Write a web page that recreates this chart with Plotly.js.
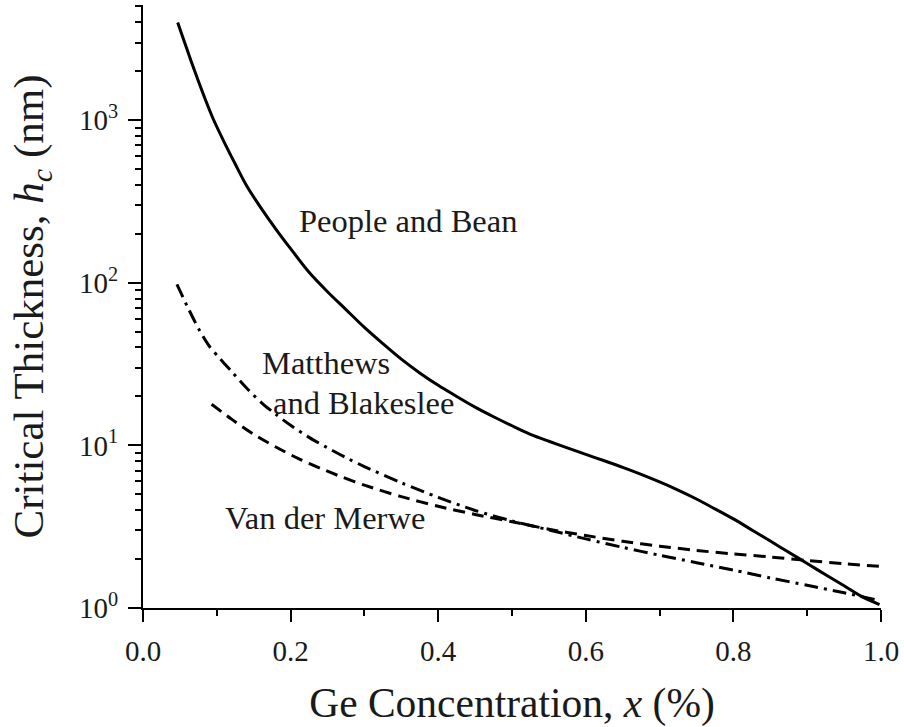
<!DOCTYPE html>
<html>
<head>
<meta charset="utf-8">
<script src="https://cdn.plot.ly/plotly-3.0.1.min.js"></script>
<style>
  html, body { margin: 0; padding: 0; background: #fff; }
  #chart { width: 904px; height: 727px; }
</style>
</head>
<body>
<div id="chart"></div>
<script>
// People and Bean (solid)
const xPB = [0.047, 0.055, 0.065, 0.075, 0.085, 0.095, 0.11, 0.125, 0.14, 0.16, 0.18, 0.2, 0.225, 0.25, 0.275, 0.3, 0.325, 0.35, 0.375, 0.4, 0.425, 0.45, 0.475, 0.5, 0.525, 0.55, 0.575, 0.6, 0.625, 0.65, 0.675, 0.7, 0.725, 0.75, 0.775, 0.8, 0.825, 0.85, 0.875, 0.9, 0.925, 0.95, 0.975, 0.998];
const yPB = [3980, 3130, 2320, 1740, 1320, 1020, 733, 537, 398, 288, 214, 162, 116, 88.1, 68.4, 53.1, 42.2, 33.9, 27.9, 23.4, 20.0, 17.2, 15.0, 13.2, 11.7, 10.6, 9.66, 8.81, 8.04, 7.33, 6.64, 5.96, 5.31, 4.68, 4.07, 3.53, 3.02, 2.58, 2.20, 1.88, 1.60, 1.37, 1.17, 1.05];

// Matthews and Blakeslee (dash-dot)
const xMB = [0.046, 0.06, 0.075, 0.09, 0.105, 0.12, 0.14, 0.16, 0.18, 0.2, 0.225, 0.25, 0.275, 0.3, 0.35, 0.4, 0.45, 0.5, 0.55, 0.6, 0.65, 0.7, 0.75, 0.8, 0.85, 0.9, 0.95, 0.995];
const yMB = [97.7, 71.6, 52.5, 40.7, 33.9, 28.5, 22.6, 18.4, 15.5, 13.3, 11.2, 9.66, 8.41, 7.41, 5.89, 4.79, 3.98, 3.43, 3.02, 2.66, 2.36, 2.11, 1.90, 1.71, 1.53, 1.38, 1.24, 1.12];

// Van der Merwe (dashed)
const xVM = [0.093, 0.12, 0.15, 0.18, 0.21, 0.24, 0.27, 0.3, 0.35, 0.4, 0.45, 0.5, 0.55, 0.6, 0.65, 0.7, 0.75, 0.8, 0.85, 0.9, 0.95, 1.0];
const yVM = [17.9, 14.5, 11.7, 9.77, 8.32, 7.24, 6.38, 5.69, 4.84, 4.22, 3.76, 3.39, 3.05, 2.79, 2.57, 2.40, 2.26, 2.15, 2.06, 1.96, 1.87, 1.80];

// Tick labels
const xTickVals = [0, 0.2, 0.4, 0.6, 0.8, 1.0];
const xTickText = ['0.0', '0.2', '0.4', '0.6', '0.8', '1.0'];
const yTickVals = [1, 10, 100, 1000];
const yTickText = ['10<sup>0</sup>', '10<sup>1</sup>', '10<sup>2</sup>', '10<sup>3</sup>'];

// Curve labels
const labels = [
  {text: 'People and Bean', x: 0.359, y: 239},
  {text: 'Matthews', x: 0.248, y: 32.0},
  {text: 'and Blakeslee', x: 0.2985, y: 18.1},
  {text: 'Van der Merwe', x: 0.247, y: 3.6}
];

const yMinorVals = [];
[1, 10, 100, 1000].forEach(d => { for (let k = 2; k <= 9; k++) { if (d * k <= 5100) yMinorVals.push(d * k); } });

const FONT = '"Liberation Serif", "Times New Roman", Times, serif';
const TXT = '#1a1a1a';
const yRange = [0, 3.708];

const traces = [
  {x: xPB, y: yPB, mode: 'lines', line: {color: '#000', width: 3, dash: 'solid', shape: 'spline', smoothing: 0.8}, name: 'People and Bean'},
  {x: xMB, y: yMB, mode: 'lines', line: {color: '#000', width: 3, dash: '14px,6px,3px,6px', shape: 'spline', smoothing: 0.8}, name: 'Matthews and Blakeslee'},
  {x: xVM, y: yVM, mode: 'lines', line: {color: '#000', width: 3, dash: '12px,7px', shape: 'spline', smoothing: 0.8}, name: 'Van der Merwe'}
];

const commonX = {
  range: [0, 1], showgrid: false, zeroline: false, showline: true, linecolor: '#000', linewidth: 2,
  tickvals: xTickVals, tickcolor: '#000', tickwidth: 2, ticklen: 12
};
const commonY = {
  type: 'log', range: yRange, showgrid: false, zeroline: false, showline: true, linecolor: '#000', linewidth: 2,
  tickvals: yTickVals, tickcolor: '#000', tickwidth: 2, ticklen: 13
};

const layout = {
  width: 904, height: 727,
  margin: {l: 143, r: 23, t: 5, b: 119},
  paper_bgcolor: '#fff', plot_bgcolor: '#fff',
  showlegend: false,
  font: {family: FONT, color: TXT},
  xaxis: Object.assign({}, commonX, {
    ticks: 'outside', ticktext: xTickText, tickfont: {family: FONT, size: 29, color: TXT},
    ticklabelstandoff: 4,
    minor: {ticks: 'outside', dtick: 0.1, tick0: 0, ticklen: 6, tickwidth: 2, tickcolor: '#000', showgrid: false},
    title: {text: 'Ge Concentration, <i>x</i> (%)', font: {family: FONT, size: 41.5, color: TXT}, standoff: 22},
    automargin: true
  }),
  xaxis2: Object.assign({}, commonX, {
    overlaying: 'x', side: 'top', anchor: 'y', ticks: 'inside', showticklabels: false,
    minor: {ticks: 'inside', dtick: 0.1, tick0: 0, ticklen: 6, tickwidth: 2, tickcolor: '#000', showgrid: false}
  }),
  yaxis: Object.assign({}, commonY, {
    ticks: 'outside', ticktext: yTickText, tickfont: {family: FONT, size: 29, color: TXT},
    ticklabelstandoff: 4,
    minor: {ticks: 'outside', tickvals: yMinorVals, ticklen: 6, tickwidth: 2, tickcolor: '#000', showgrid: false},
    title: {text: 'Critical Thickness, <i>h</i><sub><i>c</i></sub> (nm)', font: {family: FONT, size: 43, color: TXT}, standoff: 22},
    automargin: true
  }),
  yaxis2: Object.assign({}, commonY, {
    overlaying: 'y', side: 'right', anchor: 'x', ticks: 'inside', showticklabels: false,
    minor: {ticks: 'inside', tickvals: yMinorVals, ticklen: 7, tickwidth: 2, tickcolor: '#000', showgrid: false}
  }),
  annotations: labels.map(l => ({
    text: l.text, x: l.x, y: Math.log10(l.y), xref: 'x', yref: 'y',
    showarrow: false, xanchor: 'center', yanchor: 'middle',
    font: {family: FONT, size: 32.5, color: TXT}
  }))
};

Plotly.newPlot('chart', traces, layout, {displayModeBar: false, staticPlot: true});
</script>
</body>
</html>
